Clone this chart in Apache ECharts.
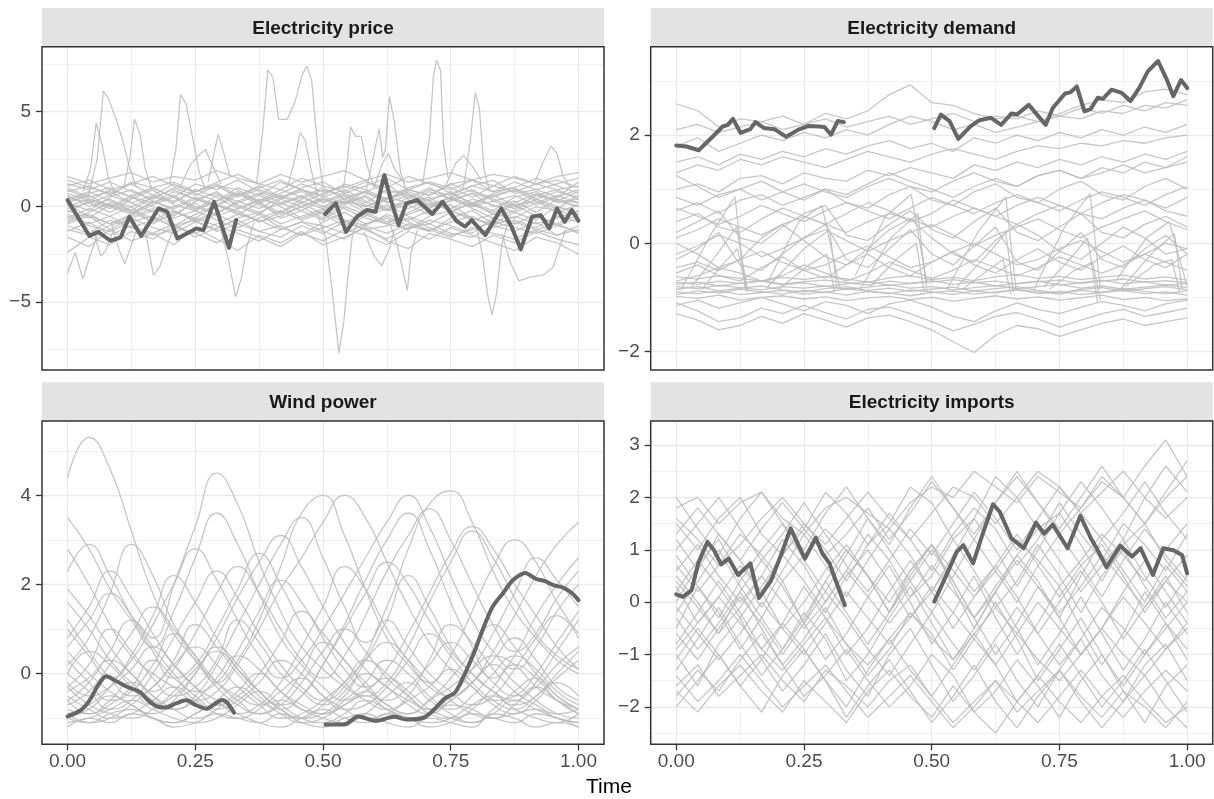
<!DOCTYPE html>
<html>
<head>
<meta charset="utf-8">
<script src="https://cdn.jsdelivr.net/npm/echarts@6/dist/echarts.min.js"></script>
<style>
html,body{margin:0;padding:0;background:#fff;}
#main{width:1214px;height:799px;}
</style>
</head>
<body>
<div id="main"></div>
<script>
// time points used by the background curves
var timeGrid = [0,0.042,0.083,0.125,0.167,0.208,0.25,0.292,0.333,0.375,0.417,0.458,0.5,0.542,0.583,0.625,0.667,0.708,0.75,0.792,0.833,0.875,0.917,0.958,1];
var xMajor = [0,0.25,0.5,0.75,1];
var xMinor = [0.125,0.375,0.625,0.875];

var priceTicks = [-5,0,5], priceMinor = [-7.5,-2.5,2.5,7.5];
var demandTicks = [-2,0,2], demandMinor = [-1,1,3];
var windTicks = [0,2,4], windMinor = [-1,1,3,5];
var importTicks = [-2,-1,0,1,2,3], importMinor = [-2.5,-1.5,-0.5,0.5,1.5,2.5];

// ---- Electricity price ----
var priceLines = [
 [1.2,0.9,1.3,0.8,0.4,1.0,0.6,1.1,0.9,0.3,0.7,1.2,0.8,1.0,1.4,0.7,0.9,1.3,1.0,0.5,1.1,0.8,1.2,0.9,1.1],
 [0.5,0.2,-0.3,0.4,0.9,0.1,-0.2,0.6,0.3,-0.1,0.5,0.8,0.2,0.6,-0.2,0.4,0.7,0.1,0.5,0.9,0.3,-0.1,0.6,0.4,0.2],
 [-0.4,-0.9,-0.5,-1.1,-0.7,-0.2,-0.8,-1.2,-0.6,-0.3,-0.9,-0.5,-0.1,-0.7,-1.0,-0.4,-0.8,-1.3,-0.6,-0.2,-0.9,-0.7,-1.1,-0.5,-0.8],
 [0.0,0.4,0.1,-0.3,0.2,0.6,0.0,-0.4,0.3,0.7,0.2,-0.2,0.4,0.1,0.6,-0.1,0.3,0.5,-0.2,0.2,0.6,0.1,0.3,-0.3,0.1],
 [-1.3,-0.8,-1.5,-1.0,-1.4,-0.9,-1.6,-1.1,-0.7,-1.3,-1.6,-1.0,-1.4,-0.8,-1.2,-1.7,-1.1,-0.9,-1.4,-1.6,-1.0,-1.3,-0.8,-1.5,-1.2],
 [0.8,1.1,0.6,1.3,1.0,0.5,1.2,0.9,1.4,0.8,0.4,1.0,1.3,0.7,1.1,1.5,0.9,0.6,1.2,1.4,0.8,1.0,1.5,1.1,0.7],
 [-0.2,-0.6,0.1,-0.3,-0.8,-0.4,0.2,-0.5,-0.1,0.3,-0.6,-0.2,-0.7,0.0,-0.4,0.1,-0.5,-0.9,-0.3,0.2,-0.4,-0.6,0.0,-0.2,-0.5],
 [0.3,0.7,1.0,0.5,0.2,0.8,0.4,0.0,0.6,1.1,0.5,0.9,0.3,0.7,0.2,0.9,0.6,0.3,0.8,0.1,0.7,1.0,0.4,0.8,0.5],
 [-0.9,-0.5,-1.2,-0.6,-0.2,-1.0,-0.7,-1.3,-0.9,-0.4,-1.1,-1.5,-0.8,-0.3,-0.9,-0.6,-1.2,-0.7,-1.0,-1.4,-0.6,-0.9,-0.4,-1.0,-0.6],
 [1.0,0.5,0.8,0.2,0.6,1.2,0.7,0.3,1.0,0.6,1.3,0.9,0.5,0.2,0.8,1.2,0.4,0.9,0.6,1.1,1.4,0.7,0.9,0.5,1.3],
 [-0.6,-0.1,-0.5,0.0,-0.9,-0.3,-0.6,0.1,-0.2,-0.8,-0.3,0.2,-0.4,-1.0,-0.5,-0.1,-0.7,-0.2,0.1,-0.6,-0.9,-0.3,-0.7,0.0,-0.3],
 [0.2,-0.2,0.5,0.9,0.3,-0.1,0.4,0.7,0.1,-0.3,0.2,0.5,1.0,0.4,0.0,0.5,0.2,0.8,0.4,0.0,0.3,0.6,0.1,0.5,0.9],
 [-1.6,-2.1,-1.2,-1.8,-1.4,-2.0,-1.1,-1.7,-2.3,-1.5,-1.9,-1.3,-2.0,-1.6,-1.1,-1.8,-2.2,-1.4,-1.7,-2.1,-1.5,-1.9,-1.3,-1.7,-2.0],
 [1.4,1.0,0.7,1.2,1.6,1.1,0.8,1.3,1.7,1.2,0.9,1.5,1.1,0.8,1.3,1.0,1.6,1.2,0.9,1.4,1.1,1.6,1.2,1.4,1.0],
 [-0.3,0.3,-0.1,0.5,0.0,-0.5,0.3,0.8,0.0,-0.4,0.4,0.0,-0.6,0.2,0.5,-0.2,0.1,-0.4,0.4,0.7,0.0,0.3,-0.3,0.4,0.0],
 [-1.0,-1.4,-0.7,-1.1,-1.5,-1.2,-0.6,-1.0,-1.4,-1.8,-1.2,-0.8,-1.3,-1.7,-1.0,-1.4,-0.9,-1.2,-1.6,-1.1,-1.4,-1.7,-1.2,-0.9,-1.4],
 [0.6,0.0,0.4,-0.2,0.5,0.2,0.9,0.5,-0.1,0.4,0.1,0.6,0.0,0.5,0.8,0.3,-0.1,0.4,0.7,0.2,-0.2,0.5,0.8,0.2,0.4],
 [-2.4,-1.6,-2.0,-1.3,-1.7,-1.0,-1.4,-1.9,-1.2,-1.6,-2.1,-1.4,-1.8,-1.2,-1.5,-2.0,-1.3,-1.7,-1.1,-1.5,-1.9,-2.3,-1.6,-1.9,-2.5],
 [0.9,0.4,0.0,0.6,1.0,0.5,-0.1,0.3,0.8,0.2,-0.3,0.4,0.9,0.6,0.1,-0.2,0.5,1.0,0.4,0.0,0.6,0.9,0.3,-0.1,0.6],
 [-0.7,-0.3,0.2,-0.2,-0.6,-1.0,-0.4,0.1,-0.3,-0.8,-0.5,0.0,0.4,-0.1,-0.6,-0.9,-0.3,0.2,-0.2,-0.7,-0.4,0.1,-0.5,-0.9,-0.4],
 [0.1,-0.5,-0.9,-0.4,0.3,-0.2,-0.7,-0.3,0.2,0.6,0.0,-0.6,-0.2,0.3,-0.3,-0.8,-0.4,0.0,0.5,-0.1,-0.6,-0.2,0.4,0.0,-0.4],
 [1.1,1.4,0.9,0.5,1.0,1.3,0.8,1.2,0.6,1.0,1.4,0.9,0.6,1.2,0.9,0.4,1.0,1.3,0.7,1.1,0.8,1.3,0.9,1.2,1.5],
 [-1.2,-1.5,-1.0,-0.6,-1.1,-1.4,-0.8,-0.4,-0.9,-1.3,-1.0,-1.5,-1.1,-0.7,-1.2,-1.0,-0.6,-1.1,-1.5,-1.2,-0.8,-1.1,-1.4,-1.0,-1.3],
 [0.4,0.8,0.3,0.0,0.5,0.9,0.4,0.1,0.7,0.3,0.9,0.5,0.0,0.4,0.8,0.2,0.6,0.0,0.3,0.7,0.4,0.0,0.6,0.9,0.4],
 [-0.1,0.2,0.6,0.2,-0.3,0.0,0.5,0.1,-0.4,0.2,0.6,0.3,-0.1,0.3,0.0,0.4,0.8,0.3,-0.1,0.4,0.1,-0.3,0.2,0.6,0.2],
 [-0.5,-1.0,-1.3,-0.8,-0.5,-1.1,-1.4,-0.9,-0.4,-0.7,-1.2,-0.8,-1.0,-1.4,-0.9,-0.5,-1.0,-1.3,-0.8,-0.5,-1.1,-0.8,-1.2,-1.5,-1.0],
 [0.7,0.3,0.9,1.2,0.6,0.3,0.8,1.1,0.5,0.9,0.5,0.2,0.7,1.1,0.7,0.4,0.9,0.6,1.2,0.8,0.5,0.9,0.6,0.3,0.8],
 [-0.8,-0.4,-0.9,-0.5,-0.1,-0.6,-0.2,-0.7,-1.1,-0.6,-0.2,-0.7,-0.3,-0.8,-0.4,-0.9,-1.2,-0.5,-0.2,-0.6,-1.0,-0.5,-0.9,-0.6,-0.2],
 [1.6,1.2,1.5,1.8,1.3,1.6,1.4,1.9,1.5,1.2,1.7,1.3,1.6,1.9,1.4,1.7,1.3,1.5,1.8,1.4,1.7,1.5,1.2,1.6,1.8],
 [0.2,0.6,0.0,-0.4,0.1,0.5,-0.2,0.3,0.7,0.1,-0.4,0.0,0.5,0.9,0.3,-0.2,0.3,-0.1,0.5,0.1,-0.3,0.2,0.7,0.3,0.0]
];
var priceSpikes = [
 [[0.03,0.8],[0.045,2.0],[0.056,4.4],[0.068,3.2],[0.08,1.5],[0.095,0.6]],
 [[0.04,0.5],[0.058,2.5],[0.07,6.1],[0.08,5.7],[0.095,4.6],[0.108,3.5],[0.12,2.2],[0.135,1.0]],
 [[0.11,1.0],[0.122,2.6],[0.131,4.6],[0.142,3.8],[0.152,2.0],[0.165,0.9]],
 [[0.2,1.2],[0.212,3.0],[0.221,5.9],[0.232,5.4],[0.245,3.6],[0.258,1.8],[0.27,0.9]],
 [[0.275,1.3],[0.288,3.0],[0.295,3.8],[0.305,2.9],[0.318,1.6]],
 [[0.37,1.2],[0.382,4.0],[0.392,7.2],[0.402,6.8],[0.413,4.6],[0.43,4.6],[0.445,5.5],[0.46,7.0],[0.469,7.4],[0.478,6.6],[0.49,3.0],[0.5,1.0]],
 [[0.43,1.0],[0.445,2.5],[0.455,3.9],[0.465,3.5],[0.478,1.8],[0.49,0.6]],
 [[0.49,-0.5],[0.505,-1.6],[0.517,-4.2],[0.531,-7.7],[0.541,-6.0],[0.548,-3.9],[0.557,-1.6],[0.57,-0.6]],
 [[0.54,1.0],[0.548,2.5],[0.554,4.2],[0.564,3.7],[0.575,3.7],[0.585,2.3],[0.6,1.0]],
 [[0.585,0.9],[0.61,4.1],[0.617,2.6],[0.622,3.0],[0.63,5.8],[0.64,4.4],[0.652,1.8],[0.665,0.7]],
 [[0.63,-0.8],[0.645,-2.0],[0.665,-4.4],[0.672,-2.5],[0.685,-1.2]],
 [[0.695,1.2],[0.708,3.5],[0.716,6.8],[0.722,7.7],[0.73,7.2],[0.736,3.2],[0.745,1.5]],
 [[0.775,1.0],[0.788,3.4],[0.798,6.0],[0.806,5.2],[0.815,2.0],[0.826,0.8]],
 [[0.8,-1.0],[0.812,-2.5],[0.822,-4.6],[0.831,-5.7],[0.84,-4.5],[0.85,-2.0],[0.86,-1.0]],
 [[0.85,-1.4],[0.865,-2.8],[0.883,-3.9],[0.905,-3.7],[0.93,-3.6],[0.95,-3.2],[0.965,-2.0],[0.975,-1.2]],
 [[0.915,1.3],[0.93,2.3],[0.946,3.2],[0.958,2.8],[0.97,1.6],[0.985,1.0]],
 [[0,-3.5],[0.015,-2.4],[0.03,-3.8],[0.045,-2.5],[0.06,-1.4]],
 [[0.085,-0.8],[0.1,-2.2],[0.112,-3.0],[0.125,-2.0],[0.14,-0.9]],
 [[0.3,-1.2],[0.315,-2.8],[0.329,-4.75],[0.34,-3.8],[0.35,-2.2],[0.365,-0.8]],
 [[0.15,-1.0],[0.16,-2.4],[0.168,-3.6],[0.18,-3.2],[0.195,-2.0],[0.21,-1.0]],
 [[0.22,1.0],[0.24,2.2],[0.26,2.8],[0.27,3.0],[0.28,2.4],[0.3,1.2]],
 [[0.6,1.0],[0.615,2.2],[0.628,2.8],[0.64,2.0],[0.66,1.2]],
 [[0.74,1.1],[0.76,2.3],[0.775,2.7],[0.79,2.2],[0.81,1.4]],
 [[0.05,-1.2],[0.065,-2.6],[0.075,-2.3],[0.09,-1.2]],
 [[0.58,-1.3],[0.6,-2.6],[0.615,-3.1],[0.63,-2.2],[0.64,-1.2]]
];
var priceDarkA = [[0,0.35],[0.043,-1.54],[0.06,-1.32],[0.084,-1.79],[0.104,-1.61],[0.121,-0.53],[0.144,-1.54],[0.178,-0.09],[0.195,-0.26],[0.215,-1.67],[0.252,-1.14],[0.266,-1.23],[0.287,0.26],[0.316,-2.16],[0.33,-0.70]];
var priceDarkB = [[0.504,-0.38],[0.525,0.18],[0.545,-1.32],[0.566,-0.53],[0.586,-0.17],[0.603,-0.26],[0.62,1.67],[0.633,0.35],[0.648,-0.96],[0.663,0.18],[0.684,0.35],[0.714,-0.38],[0.734,0.26],[0.761,-0.74],[0.778,-1.05],[0.791,-0.70],[0.818,-1.49],[0.849,-0.09],[0.869,-1.05],[0.887,-2.24],[0.909,-0.53],[0.926,-0.44],[0.943,-1.14],[0.958,-0.09],[0.973,-0.79],[0.987,-0.17],[1,-0.74]];

// ---- Electricity demand ----
var demandLines = [
 [-0.80,-0.84,-0.78,-0.82,-0.86,-0.80,-0.83,-0.79,-0.85,-0.81,-0.77,-0.83,-0.80,-0.86,-0.82,-0.78,-0.84,-0.80,-0.76,-0.83,-0.79,-0.85,-0.81,-0.77,-0.82],
 [-0.90,-0.93,-0.88,-0.95,-0.91,-0.87,-0.94,-0.90,-0.96,-0.89,-0.92,-0.97,-0.91,-0.88,-0.94,-0.90,-0.86,-0.93,-0.89,-0.95,-0.91,-0.87,-0.93,-0.90,-0.96],
 [-0.72,-0.76,-0.70,-0.74,-0.69,-0.75,-0.71,-0.68,-0.73,-0.77,-0.70,-0.74,-0.72,-0.67,-0.73,-0.70,-0.75,-0.71,-0.68,-0.74,-0.70,-0.66,-0.72,-0.69,-0.73],
 [-0.98,-1.02,-0.96,-1.05,-1.00,-0.97,-1.03,-0.99,-1.06,-1.01,-0.98,-1.04,-1.00,-1.07,-1.02,-0.97,-1.03,-0.99,-1.05,-1.01,-0.96,-1.04,-1.00,-1.06,-1.03],
 [-0.85,-0.80,-0.88,-0.83,-0.79,-0.86,-0.90,-0.84,-0.80,-0.87,-0.83,-0.89,-0.85,-0.81,-0.88,-0.84,-0.80,-0.87,-0.92,-0.85,-0.82,-0.88,-0.84,-0.80,-0.86],
 [-0.62,-0.66,-0.60,-0.65,-0.70,-0.63,-0.67,-0.61,-0.66,-0.72,-0.64,-0.60,-0.67,-0.63,-0.69,-0.62,-0.58,-0.65,-0.61,-0.67,-0.63,-0.59,-0.66,-0.62,-0.68],
 [-1.10,-1.25,-1.45,-1.38,-1.20,-1.30,-1.15,-1.28,-1.40,-1.22,-1.18,-1.30,-1.45,-1.62,-1.50,-1.35,-1.28,-1.40,-1.55,-1.42,-1.30,-1.22,-1.35,-1.28,-1.20],
 [-1.30,-1.42,-1.60,-1.52,-1.35,-1.48,-1.30,-1.42,-1.55,-1.38,-1.33,-1.45,-1.60,-1.82,-2.02,-1.70,-1.52,-1.58,-1.72,-1.60,-1.48,-1.40,-1.52,-1.45,-1.38],
 [-0.30,-0.10,0.20,-0.40,-0.50,-0.20,0.10,0.35,-0.30,-0.45,-0.10,0.25,-0.20,-0.40,-0.05,0.30,-0.35,-0.50,-0.15,0.20,-0.30,-0.45,-0.10,0.15,-0.20],
 [0.20,0.40,0.60,0.10,0.00,0.30,0.55,0.70,0.15,0.05,0.35,0.60,0.25,0.10,0.40,0.65,0.20,0.05,0.30,0.55,0.20,0.10,0.35,0.50,0.30],
 [0.60,0.75,0.55,0.80,0.90,0.70,0.85,1.00,0.75,0.65,0.90,1.05,0.80,0.70,0.95,1.10,0.85,0.75,1.00,1.15,0.90,0.80,1.05,1.20,1.00],
 [1.00,1.10,0.95,1.20,1.25,1.10,1.30,1.20,1.15,1.35,1.25,1.40,1.30,1.20,1.45,1.35,1.50,1.40,1.55,1.45,1.60,1.50,1.65,1.55,1.70],
 [1.50,1.60,1.45,1.65,1.55,1.70,1.60,1.75,1.65,1.80,1.90,1.75,1.85,1.70,1.95,1.85,2.00,1.90,2.05,1.95,2.10,2.00,2.15,2.05,2.20],
 [2.58,2.45,2.15,2.30,2.25,2.35,2.20,2.40,2.30,2.45,2.75,2.93,2.60,2.55,2.40,2.30,2.35,2.25,2.40,2.55,2.65,2.60,2.80,2.85,2.75],
 [0.00,-0.20,-0.45,-0.30,0.10,0.35,0.05,-0.25,-0.40,-0.10,0.25,0.45,0.10,-0.20,-0.35,0.05,0.35,0.15,-0.15,-0.30,0.00,0.30,0.10,-0.20,-0.10],
 [1.80,1.95,1.70,1.85,2.00,1.90,2.05,1.95,2.10,2.00,2.20,2.35,2.25,2.10,2.20,2.05,2.15,2.25,2.35,2.30,2.45,2.40,2.55,2.50,2.65],
 [-0.55,-0.40,-0.60,-0.70,-0.45,-0.25,-0.50,-0.65,-0.40,-0.20,-0.45,-0.60,-0.35,-0.15,-0.40,-0.55,-0.30,-0.10,-0.35,-0.50,-0.25,-0.05,-0.30,-0.45,-0.20],
 [1.25,1.05,0.85,1.00,1.15,0.95,0.80,1.00,0.90,1.10,1.30,1.15,1.00,0.85,1.05,1.20,1.05,1.25,1.35,1.20,1.40,1.30,1.50,1.40,1.60],
 [-0.45,-0.35,-0.50,-0.30,-0.15,-0.35,-0.50,-0.40,-0.20,-0.05,-0.25,-0.45,-0.35,-0.15,0.00,-0.20,-0.40,-0.30,-0.10,0.05,-0.15,-0.35,-0.20,0.00,-0.10],
 [0.40,0.55,0.30,0.20,0.45,0.65,0.50,0.35,0.55,0.75,0.60,0.40,0.55,0.80,0.65,0.50,0.70,0.85,0.70,0.55,0.75,0.90,0.80,0.65,0.85],
 [0.85,0.70,0.90,1.00,0.80,0.95,1.10,0.95,0.85,1.05,1.20,1.05,0.95,1.15,1.30,1.15,1.05,1.25,1.35,1.20,1.30,1.45,1.30,1.40,1.50],
 [-0.20,-0.05,0.15,0.00,-0.25,-0.10,0.10,0.25,0.05,-0.15,0.05,0.20,0.35,0.15,-0.05,0.15,0.30,0.45,0.25,0.10,0.30,0.45,0.60,0.40,0.25],
 [1.30,1.45,1.35,1.55,1.45,1.60,1.50,1.40,1.55,1.70,1.60,1.50,1.65,1.75,1.65,1.55,1.70,1.80,1.75,1.85,1.80,1.90,1.85,1.95,2.00],
 [-0.70,-0.60,-0.45,-0.55,-0.70,-0.60,-0.40,-0.55,-0.70,-0.55,-0.35,-0.50,-0.65,-0.50,-0.30,-0.45,-0.60,-0.45,-0.25,-0.40,-0.55,-0.40,-0.20,-0.35,-0.50],
 [0.10,0.25,0.45,0.30,0.15,0.35,0.50,0.35,0.20,0.40,0.55,0.45,0.30,0.50,0.65,0.50,0.35,0.55,0.70,0.55,0.45,0.65,0.80,0.60,0.50],
 [2.10,2.20,2.05,2.15,2.25,2.10,2.20,2.30,2.15,2.25,2.35,2.20,2.30,2.40,2.25,2.35,2.30,2.45,2.35,2.50,2.40,2.55,2.45,2.60,2.55],
 [-0.95,-0.88,-0.92,-0.85,-0.90,-0.94,-0.87,-0.91,-0.84,-0.89,-0.93,-0.86,-0.90,-0.95,-0.88,-0.92,-0.85,-0.90,-0.94,-0.87,-0.91,-0.84,-0.89,-0.93,-0.88],
 [-0.76,-0.72,-0.79,-0.74,-0.70,-0.77,-0.73,-0.80,-0.75,-0.71,-0.78,-0.74,-0.69,-0.76,-0.72,-0.79,-0.74,-0.70,-0.77,-0.73,-0.68,-0.75,-0.71,-0.78,-0.74],
 [-1.15,-1.05,-1.20,-1.10,-1.00,-1.12,-1.25,-1.08,-1.15,-1.30,-1.12,-1.05,-1.18,-1.35,-1.45,-1.25,-1.10,-1.22,-1.30,-1.18,-1.08,-1.15,-1.25,-1.12,-1.05],
 [0.65,0.50,0.35,0.50,0.70,0.55,0.40,0.60,0.75,0.60,0.45,0.65,0.85,0.70,0.55,0.75,0.90,0.75,0.60,0.80,0.95,0.85,0.70,0.90,1.05]
];
var demandTents = [
 [[0.01,-0.85],[0.07,0.2],[0.115,0.86],[0.135,-0.85]],
 [[0.03,-0.8],[0.08,-0.2],[0.118,0.3],[0.14,-0.9]],
 [[0.05,-0.85],[0.09,-0.4],[0.12,-0.1],[0.138,-0.88]],
 [[0.18,-0.8],[0.25,-0.1],[0.3,0.25],[0.315,-0.85]],
 [[0.2,-0.85],[0.26,-0.4],[0.295,-0.2],[0.31,-0.9]],
 [[0.18,-0.7],[0.24,0.4],[0.285,0.7],[0.32,-0.8]],
 [[0.36,-0.85],[0.42,0.1],[0.473,0.55],[0.49,-0.85]],
 [[0.38,-0.8],[0.43,-0.3],[0.47,0.0],[0.485,-0.9]],
 [[0.35,-0.6],[0.41,0.5],[0.46,0.9],[0.49,-0.7]],
 [[0.53,-0.85],[0.59,0.2],[0.645,0.86],[0.665,-0.85]],
 [[0.55,-0.8],[0.61,-0.2],[0.645,0.2],[0.66,-0.9]],
 [[0.56,-0.85],[0.61,-0.5],[0.64,-0.3],[0.655,-0.95]],
 [[0.7,-0.85],[0.76,0.3],[0.81,0.92],[0.83,-0.85]],
 [[0.72,-0.8],[0.77,-0.3],[0.805,0.1],[0.825,-1.1]],
 [[0.73,-0.85],[0.78,-0.5],[0.815,-0.35],[0.83,-1.05]],
 [[0.87,-0.85],[0.93,-0.2],[0.975,0.18],[0.99,-0.85]],
 [[0.88,-0.8],[0.935,-0.4],[0.97,-0.3],[0.985,-0.9]],
 [[0.86,-0.7],[0.92,0.1],[0.965,0.4],[1.0,-0.8]]
];
var demandDarkA = [[0,1.81],[0.02,1.79],[0.044,1.72],[0.071,1.97],[0.091,2.16],[0.101,2.19],[0.111,2.30],[0.126,2.04],[0.145,2.11],[0.155,2.24],[0.172,2.13],[0.192,2.11],[0.215,1.97],[0.239,2.10],[0.259,2.17],[0.279,2.16],[0.29,2.15],[0.303,2.01],[0.316,2.26],[0.328,2.24]];
var demandDarkB = [[0.505,2.13],[0.518,2.38],[0.535,2.26],[0.552,1.93],[0.576,2.16],[0.592,2.27],[0.616,2.32],[0.636,2.19],[0.656,2.40],[0.667,2.38],[0.69,2.56],[0.723,2.19],[0.737,2.50],[0.761,2.77],[0.771,2.79],[0.784,2.90],[0.799,2.44],[0.811,2.48],[0.825,2.69],[0.835,2.67],[0.852,2.84],[0.872,2.78],[0.889,2.63],[0.906,2.87],[0.923,3.18],[0.943,3.37],[0.96,3.03],[0.973,2.72],[0.988,3.02],[1,2.87]];

// ---- Wind power ----
var windLines = [
 [4.4,5.3,4.6,3.2,1.8,0.9,0.3,-0.2,-0.5,-0.7,-0.6,-0.8,-0.9,-0.7,-0.5,-0.8,-1.0,-0.9,-0.7,-0.8,-1.0,-0.9,-0.8,-1.0,-1.1],
 [3.5,2.8,1.9,1.2,0.6,1.4,2.6,3.6,2.9,1.8,0.8,0.2,-0.3,-0.6,-0.4,-0.7,-0.9,-0.6,-0.3,0.1,0.4,0.2,-0.3,-0.6,-0.8],
 [0.2,0.8,1.8,2.9,2.2,1.1,0.4,-0.2,0.3,1.2,2.4,3.6,4.0,3.1,1.9,0.8,0.2,-0.3,-0.5,-0.2,0.5,1.3,2.2,2.9,3.4],
 [-0.6,-0.2,0.5,1.2,0.8,2.0,3.3,4.5,3.8,2.5,1.4,0.6,0.1,-0.3,-0.6,-0.8,-0.5,0.3,1.1,0.7,0.1,-0.4,-0.7,-0.9,-0.8],
 [1.6,1.0,0.3,-0.2,-0.6,-0.8,-0.5,0.2,1.1,2.0,2.9,3.5,2.6,1.5,0.7,1.5,2.8,3.8,4.1,3.4,2.3,1.4,0.8,0.3,0.0],
 [-0.9,-0.7,-0.3,0.4,1.3,2.2,1.6,0.8,0.1,-0.4,-0.7,-0.5,0.2,1.1,2.1,3.0,3.6,2.8,1.6,0.6,-0.1,0.4,1.3,2.0,2.6],
 [0.8,1.5,2.3,1.7,0.9,0.2,-0.3,-0.6,-0.9,-0.7,-0.2,0.6,1.5,2.4,1.9,1.0,0.3,-0.2,0.4,1.4,2.4,3.0,2.5,1.6,0.9],
 [-1.0,-1.1,-0.9,-0.8,-1.0,-1.1,-0.9,-0.7,-0.9,-1.1,-1.2,-1.0,-0.8,-1.0,-1.1,-0.9,-1.0,-1.2,-1.1,-0.9,-1.0,-1.1,-0.9,-1.0,-1.2],
 [-0.5,-0.8,-1.0,-0.9,-0.6,-0.3,-0.6,-0.9,-1.0,-0.8,-0.4,-0.1,-0.5,-0.8,-1.0,-0.9,-0.6,-0.3,0.1,-0.3,-0.7,-0.9,-0.6,-0.2,-0.5],
 [0.3,-0.2,-0.6,-0.4,0.2,0.9,0.4,-0.2,-0.6,-0.9,-0.7,-0.2,0.5,1.0,0.5,-0.1,-0.5,-0.8,-0.6,-0.2,0.3,0.8,0.3,-0.3,-0.6],
 [2.3,2.9,2.2,1.3,0.5,-0.1,0.2,1.0,1.9,2.7,2.0,1.1,0.4,-0.2,-0.5,-0.2,0.6,1.6,2.5,3.2,2.6,1.7,0.9,0.4,0.1],
 [-0.3,0.2,1.0,0.5,-0.1,-0.5,-0.3,0.3,1.2,0.7,0.0,-0.4,-0.7,-0.4,0.3,1.2,2.2,1.5,0.6,0.0,-0.4,-0.6,-0.2,0.5,1.2],
 [-0.8,-0.9,-0.6,-0.2,-0.5,-0.8,-1.0,-0.8,-0.4,0.0,-0.4,-0.8,-1.0,-1.1,-0.9,-0.5,-0.2,-0.6,-0.9,-1.1,-0.8,-0.4,-0.1,-0.5,-0.8],
 [1.0,0.4,-0.1,0.3,1.1,2.0,2.8,2.1,1.2,0.4,-0.1,0.3,1.0,1.8,2.6,3.4,4.0,3.3,2.2,1.2,0.5,0.1,0.6,1.4,2.0],
 [-0.2,-0.5,-0.3,0.1,0.6,0.2,-0.3,-0.7,-0.5,0.0,0.7,1.4,0.9,0.3,-0.2,-0.6,-0.3,0.2,0.7,0.3,-0.2,-0.5,-0.3,0.2,0.6],
 [0.5,0.0,-0.4,-0.7,-0.9,-0.6,0.0,0.8,1.7,2.5,3.1,2.4,1.5,0.7,0.1,-0.3,-0.6,-0.8,-0.5,0.1,0.9,1.8,2.6,2.1,1.5],
 [-1.1,-1.0,-0.8,-0.6,-0.8,-1.0,-1.1,-1.0,-0.7,-0.4,-0.7,-1.0,-1.1,-0.9,-0.6,-0.8,-1.0,-1.1,-1.0,-0.7,-0.5,-0.8,-1.0,-1.1,-0.9],
 [1.9,1.3,0.6,0.0,-0.4,0.1,0.9,1.8,2.4,1.8,1.0,0.3,-0.1,0.4,1.3,2.3,3.1,3.7,3.0,2.0,1.1,0.5,0.9,1.7,2.3],
 [-0.4,-0.1,0.3,0.0,-0.5,-0.8,-0.6,-0.1,0.4,0.1,-0.4,-0.7,-0.9,-0.6,-0.2,0.3,0.0,-0.5,-0.8,-0.5,0.0,0.4,0.1,-0.4,-0.7],
 [0.0,0.5,0.2,-0.3,-0.7,-0.5,0.0,0.6,0.2,-0.4,-0.8,-1.0,-0.7,-0.2,0.3,0.0,-0.5,-0.9,-1.0,-0.8,-0.3,0.2,-0.1,-0.6,-0.9],
 [-0.7,-0.4,0.2,0.9,1.5,1.0,0.3,-0.3,-0.7,-0.9,-0.6,0.0,0.7,0.3,-0.3,-0.7,-0.9,-0.6,-0.1,0.5,1.1,0.6,0.0,-0.5,-0.8],
 [2.8,2.0,1.1,0.4,0.0,-0.3,-0.6,-0.4,0.2,1.0,1.9,2.6,3.4,4.0,3.5,2.5,1.5,0.7,0.1,-0.3,-0.6,-0.5,0.0,0.7,1.4],
 [-1.0,-0.8,-0.5,-0.7,-1.0,-1.1,-0.9,-0.6,-0.3,-0.6,-0.9,-1.1,-1.0,-0.7,-0.4,-0.1,-0.4,-0.8,-1.0,-1.1,-0.9,-0.6,-0.8,-1.0,-1.1],
 [0.0,-0.4,-0.8,-0.6,0.0,0.8,1.6,2.3,1.7,0.9,0.2,-0.3,-0.6,-0.3,0.4,1.2,0.6,0.0,-0.4,-0.7,-0.5,0.1,0.8,1.3,0.8],
 [-0.6,-0.9,-0.7,-0.3,0.3,-0.1,-0.5,-0.8,-0.6,-0.2,0.3,0.0,-0.5,-0.8,-0.7,-0.3,0.3,0.9,0.4,-0.2,-0.6,-0.8,-0.5,-0.1,0.3],
 [1.2,0.5,-0.1,-0.5,-0.3,0.3,1.1,0.6,0.0,-0.5,-0.8,-0.5,0.2,1.0,1.8,2.5,2.0,1.2,0.5,0.0,-0.4,-0.7,-0.5,0.0,0.5],
 [-0.9,-1.1,-1.0,-0.7,-0.3,0.2,0.6,0.2,-0.3,-0.7,-1.0,-0.9,-0.6,-0.2,0.3,0.7,0.3,-0.2,-0.6,-0.9,-1.0,-0.7,-0.3,-0.6,-0.9],
 [0.6,1.2,1.8,1.3,0.6,0.0,-0.4,-0.2,0.5,1.4,2.1,1.6,0.8,0.1,-0.3,0.1,0.9,1.8,2.7,3.3,2.8,2.0,1.3,0.6,0.1],
 [-0.3,-0.7,-0.9,-1.0,-0.8,-0.4,0.1,0.5,0.1,-0.4,-0.8,-1.0,-0.9,-0.5,0.0,-0.3,-0.7,-0.9,-0.6,-0.2,0.2,-0.2,-0.6,-0.9,-1.0],
 [-1.2,-1.0,-1.1,-0.9,-1.0,-1.2,-1.1,-0.9,-1.0,-1.1,-0.9,-1.1,-1.2,-1.0,-0.9,-1.1,-1.2,-1.0,-1.1,-1.2,-0.9,-1.0,-1.2,-1.1,-1.2]
];
var windDarkA = [[0,-0.96],[0.026,-0.82],[0.043,-0.60],[0.06,-0.26],[0.076,-0.06],[0.094,-0.16],[0.117,-0.30],[0.141,-0.41],[0.158,-0.60],[0.178,-0.75],[0.192,-0.76],[0.212,-0.67],[0.232,-0.60],[0.252,-0.71],[0.272,-0.79],[0.287,-0.69],[0.303,-0.59],[0.313,-0.66],[0.326,-0.88]];
var windDarkB = [[0.505,-1.14],[0.542,-1.14],[0.569,-0.96],[0.603,-1.06],[0.64,-0.97],[0.663,-1.03],[0.697,-0.99],[0.717,-0.81],[0.738,-0.56],[0.758,-0.43],[0.775,-0.07],[0.795,0.45],[0.812,0.97],[0.832,1.50],[0.852,1.80],[0.872,2.10],[0.896,2.26],[0.916,2.13],[0.933,2.08],[0.953,1.98],[0.97,1.93],[0.987,1.81],[1,1.65]];

// ---- Electricity imports ----
var importLines = [
 [1.8,2.0,1.5,1.9,2.1,1.6,1.3,1.8,2.0,1.7,1.4,1.9,2.2,2.0,2.5,2.2,1.9,2.4,2.1,1.8,2.3,2.0,2.6,3.1,2.4],
 [-1.6,-1.2,-1.8,-1.4,-1.0,-1.5,-1.9,-1.3,-1.6,-2.0,-1.5,-1.2,-1.8,-2.3,-1.9,-1.5,-2.1,-1.7,-1.3,-1.8,-2.2,-1.7,-2.0,-2.4,-1.9],
 [0.5,0.0,-0.6,0.2,0.8,0.3,-0.4,0.4,1.0,0.5,-0.2,0.6,1.1,0.3,-0.5,0.2,0.9,0.4,-0.3,0.5,1.2,0.6,0.0,0.7,0.2],
 [-0.5,0.3,-0.2,-0.9,-0.3,0.4,-0.4,-1.1,-0.6,0.1,0.7,0.0,-0.8,-0.2,0.5,-0.3,-1.0,-0.4,0.3,-0.5,-1.2,-0.6,0.2,-0.4,-0.9],
 [1.2,0.6,1.3,0.8,0.2,0.9,1.5,1.0,0.4,1.1,1.7,1.2,0.6,1.3,1.8,1.4,0.7,1.2,1.9,1.3,0.8,1.5,1.1,0.6,1.3],
 [-1.0,-1.6,-0.8,-0.3,-1.1,-1.7,-1.2,-0.6,-1.3,-1.8,-1.0,-0.5,-1.2,-1.9,-1.4,-0.8,-1.5,-2.0,-1.3,-0.7,-1.4,-1.9,-1.2,-0.8,-1.5],
 [0.0,0.7,1.2,0.5,-0.1,0.6,1.3,0.7,0.1,0.8,1.4,0.9,0.2,0.9,1.6,1.0,0.3,1.0,1.7,1.1,0.4,1.1,1.5,0.8,0.3],
 [-0.3,-0.9,-0.4,0.2,-0.5,-1.2,-0.7,-0.1,-0.8,-1.4,-0.9,-0.2,-0.6,-1.3,-0.7,0.0,-0.7,-1.5,-0.9,-0.3,-1.0,-1.6,-1.0,-0.4,-1.1],
 [2.0,1.4,0.9,1.6,2.1,1.5,1.0,1.7,2.2,1.6,1.1,1.8,2.4,1.8,1.2,1.9,2.5,1.9,1.4,2.0,2.6,2.0,1.5,2.1,2.7],
 [-2.0,-1.5,-1.0,-1.6,-2.1,-1.4,-0.9,-1.5,-2.2,-1.6,-1.1,-1.7,-2.3,-1.8,-1.2,-1.9,-2.4,-1.8,-1.3,-1.9,-2.4,-1.9,-1.4,-2.0,-2.4],
 [0.9,0.3,-0.3,0.4,1.0,1.5,0.8,0.2,0.9,1.6,1.0,0.4,-0.2,0.5,1.2,0.6,0.0,0.7,1.3,0.7,0.1,0.8,1.4,0.9,0.4],
 [-1.3,-0.7,-0.1,-0.8,-1.4,-0.9,-0.2,-0.7,-1.5,-1.0,-0.3,0.3,-0.4,-1.1,-0.5,0.2,-0.5,-1.2,-0.6,0.1,-0.6,-1.3,-0.7,0.0,-0.6],
 [0.3,-0.4,0.1,0.7,0.2,-0.5,0.0,0.6,1.1,0.5,-0.2,0.4,1.0,0.4,-0.3,0.3,0.9,1.4,0.8,0.2,0.7,1.2,0.5,-0.1,0.5],
 [-0.8,-0.2,0.4,-0.2,-0.9,-0.4,0.3,-0.3,-1.0,-0.5,0.2,0.8,0.2,-0.5,0.1,0.7,0.1,-0.6,0.0,0.6,0.0,-0.7,-0.1,0.5,-0.2],
 [1.5,1.0,1.6,2.0,1.3,0.9,1.4,2.1,1.7,1.1,1.5,2.2,1.9,1.2,1.6,2.4,2.0,1.4,1.7,2.3,1.8,1.2,2.0,2.6,2.1],
 [-1.8,-1.3,-1.7,-1.1,-0.6,-1.2,-1.8,-1.4,-0.9,-1.5,-2.0,-1.6,-1.0,-1.4,-2.1,-1.7,-1.1,-1.6,-2.2,-1.5,-1.0,-1.7,-2.3,-1.6,-1.2],
 [0.6,1.1,0.5,0.0,0.5,1.2,0.7,0.0,0.6,1.3,0.8,0.1,0.5,1.2,0.6,-0.1,0.4,1.1,0.5,-0.2,0.5,1.0,0.3,-0.3,0.2],
 [-0.2,0.4,1.0,0.3,-0.3,-0.9,-0.3,0.4,-0.2,-0.8,-0.2,0.5,1.1,0.4,-0.3,-1.0,-0.4,0.3,-0.3,-1.0,-0.5,0.2,0.8,0.2,-0.4],
 [1.0,1.5,2.0,1.4,0.8,1.3,1.9,1.3,0.7,0.2,0.8,1.4,0.9,1.5,2.1,1.6,1.0,1.6,2.2,1.7,1.2,1.7,2.3,1.7,1.2],
 [-1.1,-0.5,-1.0,-1.6,-1.1,-0.4,-0.9,-1.5,-2.0,-1.3,-0.7,-1.3,-1.8,-1.2,-0.6,-1.2,-1.9,-1.4,-0.8,-1.4,-2.0,-1.5,-0.9,-1.5,-2.1],
 [0.2,0.8,0.3,-0.3,0.3,0.9,0.4,-0.2,0.5,1.0,0.4,-0.3,0.2,0.8,0.2,0.7,1.3,0.7,0.1,0.7,1.1,0.5,-0.2,0.4,0.9],
 [-0.6,-1.1,-0.5,0.1,-0.4,-1.0,-0.4,0.2,-0.3,-0.9,-1.4,-0.8,-0.2,-0.8,-1.3,-0.7,-0.1,-0.6,-1.2,-0.7,-0.1,-0.5,-1.0,-0.5,0.0],
 [1.6,1.2,0.7,1.1,1.6,2.0,1.5,1.1,1.6,2.1,1.6,1.2,1.7,2.2,2.0,1.5,2.0,2.5,2.2,1.7,2.1,2.5,2.0,1.6,2.0],
 [-1.4,-1.9,-1.5,-1.0,-1.5,-2.0,-1.6,-1.2,-1.7,-2.2,-1.8,-1.4,-1.9,-2.4,-2.0,-1.5,-1.9,-2.3,-1.8,-1.3,-1.8,-2.2,-1.7,-1.3,-1.7],
 [0.7,0.2,0.7,1.3,0.9,0.4,0.9,1.4,1.0,0.5,0.0,0.6,1.1,0.6,0.1,0.6,1.2,0.8,0.3,0.8,1.3,0.9,0.4,1.0,1.5],
 [-0.1,-0.6,-1.1,-0.6,0.0,-0.5,-1.0,-0.4,0.2,-0.3,-0.8,-0.3,0.3,-0.2,-0.7,-1.2,-0.6,0.0,-0.5,-1.0,-0.5,0.1,-0.4,-0.9,-0.4],
 [1.3,1.8,1.3,0.8,1.4,1.9,1.4,0.9,1.3,1.8,1.2,1.7,2.3,1.8,1.3,1.9,2.4,1.9,1.3,1.8,2.4,2.0,1.5,2.0,2.4],
 [-1.7,-2.1,-1.6,-1.2,-1.7,-2.1,-1.5,-1.9,-2.3,-1.7,-1.3,-1.8,-2.2,-1.6,-2.1,-2.5,-1.9,-1.4,-1.9,-2.3,-1.8,-1.4,-1.9,-2.3,-2.0],
 [0.4,-0.1,-0.6,-0.1,0.5,0.0,-0.5,0.0,0.6,0.1,-0.4,0.1,0.7,0.2,-0.3,0.2,0.8,0.3,-0.2,0.3,0.9,0.4,-0.1,0.4,0.0],
 [-0.9,-0.4,0.1,-0.4,-0.9,-1.3,-0.8,-0.3,-0.8,-1.2,-0.7,-0.2,-0.7,-1.1,-0.6,-0.1,-0.6,-1.1,-1.5,-1.0,-0.5,-1.0,-1.4,-0.9,-0.5]
];
var importDarkA = [[0,0.15],[0.013,0.10],[0.03,0.23],[0.044,0.77],[0.061,1.15],[0.074,0.99],[0.088,0.72],[0.103,0.83],[0.121,0.52],[0.145,0.74],[0.162,0.08],[0.185,0.40],[0.205,0.90],[0.224,1.41],[0.239,1.09],[0.252,0.83],[0.273,1.23],[0.286,0.93],[0.3,0.74],[0.313,0.39],[0.33,-0.06]];
var importDarkB = [[0.505,0.01],[0.529,0.52],[0.549,0.96],[0.562,1.09],[0.581,0.74],[0.599,1.28],[0.62,1.87],[0.633,1.73],[0.656,1.22],[0.68,1.03],[0.704,1.52],[0.72,1.31],[0.737,1.48],[0.766,1.03],[0.791,1.65],[0.811,1.23],[0.825,0.99],[0.842,0.67],[0.869,1.08],[0.892,0.87],[0.909,1.03],[0.933,0.52],[0.953,1.03],[0.973,0.99],[0.99,0.90],[1,0.55]];

var font = '"Liberation Sans", Arial, Helvetica, sans-serif';
var PW = 562, PH = 323.3, SH = 38.7;

var panels = [
  {name:'Electricity price', left:42, top:46.7, ymin:-8.59, ymax:8.42, ticks:priceTicks, minor:priceMinor,
   lines:priceLines, bits:priceSpikes, darkA:priceDarkA, darkB:priceDarkB, smooth:false, bottom:false},
  {name:'Electricity demand', left:650.7, top:46.7, ymin:-2.343, ymax:3.635, ticks:demandTicks, minor:demandMinor,
   lines:demandLines, bits:demandTents, darkA:demandDarkA, darkB:demandDarkB, smooth:false, bottom:false},
  {name:'Wind power', left:42, top:421, ymin:-1.586, ymax:5.67, ticks:windTicks, minor:windMinor,
   lines:windLines, bits:[], darkA:windDarkA, darkB:windDarkB, smooth:0.5, bottom:true},
  {name:'Electricity imports', left:650.7, top:421, ymin:-2.715, ymax:3.46, ticks:importTicks, minor:importMinor,
   lines:importLines, bits:[], darkA:importDarkA, darkB:importDarkB, smooth:false, bottom:true}
];

function fmtY(v) { return v < 0 ? '\u2212' + Math.abs(v) : String(v); }

var grid = [], xAxis = [], yAxis = [], series = [], graphic = [];
var dark = [];
var greyStyle = {color:'#bcbcbc', width:1.3, opacity:0.85};

panels.forEach(function (p, i) {
  grid.push({left:p.left, top:p.top, width:PW, height:PH, show:true, backgroundColor:'#ffffff', borderWidth:0});
  xAxis.push({
    type:'value', gridIndex:i, min:-0.05, max:1.05, position:'bottom',
    axisLine:{show:false, onZero:false},
    axisTick:{show:p.bottom, customValues:xMajor, length:6, lineStyle:{color:'#333333', width:1.3}},
    axisLabel:{show:p.bottom, customValues:xMajor, margin:8, color:'#4d4d4d', fontSize:19, fontFamily:font,
      formatter:function (v) { return v.toFixed(2); }},
    splitLine:{show:true, lineStyle:{color:'#ebebeb', width:1.4}}
  });
  xAxis.push({
    type:'value', gridIndex:i, min:-0.05, max:1.05,
    axisLine:{show:false, onZero:false}, axisTick:{show:false, customValues:xMinor}, axisLabel:{show:false},
    splitLine:{show:true, lineStyle:{color:'#ebebeb', width:0.7}}
  });
  yAxis.push({
    type:'value', gridIndex:i, min:p.ymin, max:p.ymax, position:'left',
    axisLine:{show:false, onZero:false},
    axisTick:{show:true, customValues:p.ticks, length:6, lineStyle:{color:'#333333', width:1.3}},
    axisLabel:{show:true, customValues:p.ticks, margin:11, color:'#4d4d4d', fontSize:19, fontFamily:font, formatter:fmtY},
    splitLine:{show:true, lineStyle:{color:'#ebebeb', width:1.4}}
  });
  yAxis.push({
    type:'value', gridIndex:i, min:p.ymin, max:p.ymax,
    axisLine:{show:false, onZero:false}, axisTick:{show:false, customValues:p.minor}, axisLabel:{show:false},
    splitLine:{show:true, lineStyle:{color:'#ebebeb', width:0.7}}
  });

  var common = {type:'line', xAxisIndex:2 * i, yAxisIndex:2 * i, symbol:'none', silent:true, animation:false};
  p.lines.forEach(function (vals) {
    series.push(Object.assign({}, common, {
      smooth:p.smooth, z:2,
      data:timeGrid.map(function (t, k) { return [t, vals[k]]; }),
      lineStyle:greyStyle
    }));
  });
  p.bits.forEach(function (pts) {
    series.push(Object.assign({}, common, {smooth:false, z:2, data:pts, lineStyle:greyStyle}));
  });
  [p.darkA, p.darkB].forEach(function (pts) {
    dark.push(Object.assign({}, common, {
      smooth:p.smooth ? 0.3 : false, z:5, data:pts,
      lineStyle:{color:'#666666', width:4, cap:'round', join:'round'}
    }));
  });

  var stripTop = p.top - SH;
  graphic.push({type:'rect', silent:true, z:50, shape:{x:p.left, y:stripTop, width:PW, height:SH}, style:{fill:'#e3e3e3'}});
  graphic.push({type:'text', silent:true, z:51, x:p.left + PW / 2, y:stripTop + SH / 2 + 1,
    style:{text:p.name, font:'bold 19px ' + font, fill:'#1a1a1a', align:'center', verticalAlign:'middle',
      textAlign:'center', textVerticalAlign:'middle'}});
  graphic.push({type:'rect', silent:true, z:60, shape:{x:p.left, y:p.top, width:PW, height:PH},
    style:{fill:'none', stroke:'#333333', lineWidth:1.5}});
});

graphic.push({type:'text', silent:true, z:51, x:609, y:787,
  style:{text:'Time', font:'21px ' + font, fill:'#000000', align:'center', verticalAlign:'middle',
    textAlign:'center', textVerticalAlign:'middle'}});

var myChart = echarts.init(document.getElementById('main'));
myChart.setOption({
  animation:false,
  backgroundColor:'#ffffff',
  grid:grid,
  xAxis:xAxis,
  yAxis:yAxis,
  series:series.concat(dark),
  graphic:graphic
});
</script>
</body>
</html>
